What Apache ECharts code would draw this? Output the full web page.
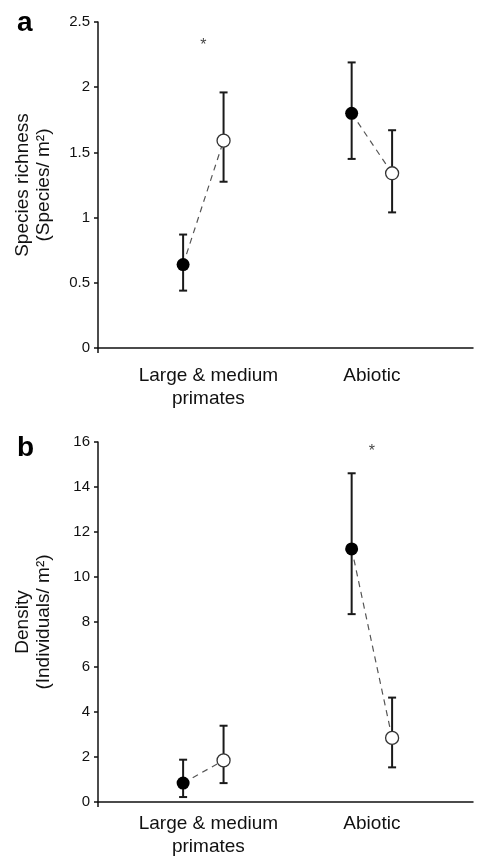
<!DOCTYPE html>
<html>
<head>
<meta charset="utf-8">
<script src="https://cdn.jsdelivr.net/npm/echarts@6/dist/echarts.min.js"></script>
<style>
    html, body { margin: 0; padding: 0; background: #fff; }
    #chart { width: 482px; height: 864px; }
</style>
</head>
<body>
<div id="chart"></div>
<script>
(function () {
    'use strict';

    var categories = ['Large & medium\nprimates', 'Abiotic'];

    // panel a - species richness (species / m²)
    var richFilled = [0.64, 1.80];
    var richFilledLow = [0.44, 1.45];
    var richFilledHigh = [0.87, 2.19];
    var richOpen = [1.59, 1.34];
    var richOpenLow = [1.275, 1.04];
    var richOpenHigh = [1.96, 1.67];
    var richTicks = [0, 0.5, 1, 1.5, 2, 2.5];
    var richStarCategory = [0];
    var richStarValue = [2.34];

    // panel b - density (individuals / m²)
    var densFilled = [0.84, 11.25];
    var densFilledLow = [0.22, 8.35];
    var densFilledHigh = [1.88, 14.61];
    var densOpen = [1.85, 2.85];
    var densOpenLow = [0.84, 1.54];
    var densOpenHigh = [3.39, 4.64];
    var densTicks = [0, 2, 4, 6, 8, 10, 12, 14, 16];
    var densStarCategory = [1];
    var densStarValue = [15.7];

    var FONT = '"Liberation Sans", Arial, sans-serif';
    var OFFSET = 0.12;   // horizontal shift of the two points inside a group
    var X_MIN = 0.375;
    var X_MAX = 2.6;

    function pos(i, side) {
        return i + 1 + side * OFFSET;
    }

    function errorBarItem(params, api) {
        var x = api.value(0);
        var top = api.coord([x, api.value(2)]);
        var bottom = api.coord([x, api.value(1)]);
        var half = 4;
        var style = { stroke: '#1a1a1a', lineWidth: 2 };
        return {
            type: 'group',
            children: [
                { type: 'line', shape: { x1: top[0], y1: top[1], x2: bottom[0], y2: bottom[1] }, style: style },
                { type: 'line', shape: { x1: top[0] - half, y1: top[1], x2: top[0] + half, y2: top[1] }, style: style },
                { type: 'line', shape: { x1: bottom[0] - half, y1: bottom[1], x2: bottom[0] + half, y2: bottom[1] }, style: style }
            ]
        };
    }

    function panelSeries(k, filled, fLow, fHigh, open, oLow, oHigh, starCat, starVal) {
        var list = [];
        var bars = [];
        var filledPts = [];
        var openPts = [];

        categories.forEach(function (c, i) {
            // dashed connector between the two means of a group
            list.push({
                type: 'line',
                xAxisIndex: k,
                yAxisIndex: k,
                data: [[pos(i, -1), filled[i]], [pos(i, 1), open[i]]],
                symbol: 'none',
                silent: true,
                z: 1,
                lineStyle: { color: '#555', width: 1.2, type: [6, 5] }
            });
            bars.push([pos(i, -1), fLow[i], fHigh[i]]);
            bars.push([pos(i, 1), oLow[i], oHigh[i]]);
            filledPts.push([pos(i, -1), filled[i]]);
            openPts.push([pos(i, 1), open[i]]);
        });

        list.push({
            type: 'custom',
            xAxisIndex: k,
            yAxisIndex: k,
            renderItem: errorBarItem,
            encode: { x: 0, y: [1, 2] },
            data: bars,
            z: 2
        });
        list.push({
            type: 'scatter',
            xAxisIndex: k,
            yAxisIndex: k,
            data: filledPts,
            symbolSize: 13,
            z: 3,
            itemStyle: { color: '#000', opacity: 1 }
        });
        list.push({
            type: 'scatter',
            xAxisIndex: k,
            yAxisIndex: k,
            data: openPts,
            symbolSize: 13,
            z: 3,
            itemStyle: { color: '#fff', borderColor: '#333', borderWidth: 1.3, opacity: 1 }
        });
        list.push({
            type: 'scatter',
            xAxisIndex: k,
            yAxisIndex: k,
            data: starCat.map(function (c, j) { return [c + 1, starVal[j]]; }),
            symbolSize: 0,
            silent: true,
            label: {
                show: true,
                position: 'inside',
                offset: [0, 3],
                formatter: '*',
                color: '#111',
                fontFamily: FONT,
                fontSize: 16
            }
        });
        return list;
    }

    function xAxisFor(k, margin) {
        return {
            type: 'value',
            gridIndex: k,
            min: X_MIN,
            max: X_MAX,
            splitLine: { show: false },
            axisLine: { show: true, lineStyle: { color: '#111', width: 1.5 } },
            axisTick: {
                show: true,
                customValues: [X_MIN],
                length: 5,
                lineStyle: { color: '#111', width: 1.5 }
            },
            axisLabel: {
                customValues: [1.03, 2],
                margin: margin,
                color: '#111',
                fontFamily: FONT,
                fontSize: 19,
                lineHeight: 23,
                formatter: function (v) {
                    return categories[Math.round(v) - 1];
                }
            }
        };
    }

    function yAxisFor(k, ticks, name) {
        return {
            type: 'value',
            gridIndex: k,
            min: ticks[0],
            max: ticks[ticks.length - 1],
            interval: ticks[1] - ticks[0],
            name: name,
            nameLocation: 'middle',
            nameRotate: 90,
            nameGap: 44,
            nameTextStyle: { color: '#111', fontFamily: FONT, fontSize: 19, lineHeight: 21 },
            splitLine: { show: false },
            axisLine: { show: true, lineStyle: { color: '#111', width: 1.5 } },
            axisTick: { show: true, inside: false, length: 4, lineStyle: { color: '#111', width: 1.5 } },
            axisLabel: { margin: 8, color: '#111', fontFamily: FONT, fontSize: 15 }
        };
    }

    var chart = echarts.init(document.getElementById('chart'));

    var series = []
        .concat(panelSeries(0, richFilled, richFilledLow, richFilledHigh,
            richOpen, richOpenLow, richOpenHigh, richStarCategory, richStarValue))
        .concat(panelSeries(1, densFilled, densFilledLow, densFilledHigh,
            densOpen, densOpenLow, densOpenHigh, densStarCategory, densStarValue));

    chart.setOption({
        backgroundColor: '#fff',
        animation: false,
        title: [
            { text: 'a', left: 12, top: 4, textStyle: { fontFamily: FONT, fontSize: 28, fontWeight: 'bold', color: '#000' } },
            { text: 'b', left: 12, top: 429, textStyle: { fontFamily: FONT, fontSize: 28, fontWeight: 'bold', color: '#000' } }
        ],
        grid: [
            { left: 98, right: 9, top: 22, height: 326 },
            { left: 98, right: 9, top: 442, height: 360 }
        ],
        xAxis: [xAxisFor(0, 16), xAxisFor(1, 10)],
        yAxis: [
            yAxisFor(0, richTicks, 'Species richness\n(Species/ m²)'),
            yAxisFor(1, densTicks, 'Density\n(Individuals/ m²)')
        ],
        series: series
    });
})();
</script>
</body>
</html>
